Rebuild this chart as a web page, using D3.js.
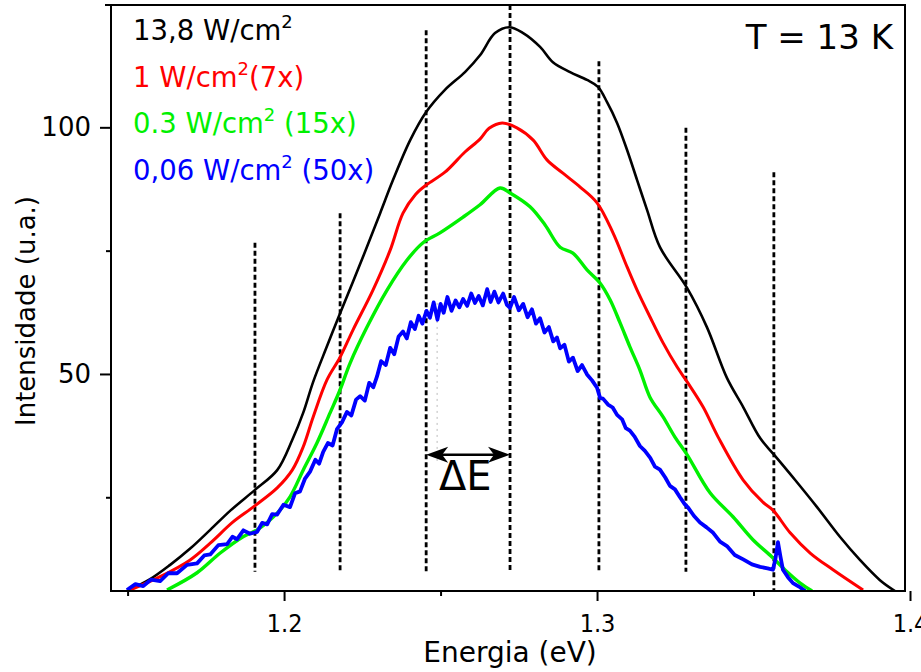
<!DOCTYPE html>
<html>
<head>
<meta charset="utf-8">
<script src="https://cdn.jsdelivr.net/npm/d3@7"></script>
<style>
  html, body { margin: 0; padding: 0; background: #fff; }
  svg { display: block; font-family: 'DejaVu Sans', sans-serif; }
</style>
</head>
<body>
<div id="chart"></div>
<script>
// PL spectra at T = 13 K, four excitation densities (scaled)
const X_DOMAIN = [1.1447, 1.3984];
const Y_DOMAIN = [6.0, 124.8];
const X_TICKS = [1.2, 1.3, 1.4];
const X_MINOR = [1.15, 1.25, 1.35];
const Y_TICKS = [50, 100];
const Y_MINOR = [25, 75];

// [energy eV, intensity]
const black = [
  [1.1498, 6.0], [1.1572, 8.4], [1.1636, 11.3], [1.1700, 14.6], [1.1764, 18.4], [1.1830, 22.4],
  [1.1907, 26.5], [1.1978, 30.5], [1.2026, 36.6], [1.2061, 42.1], [1.2093, 48.4], [1.2137, 55.6],
  [1.2179, 62.3], [1.2252, 73.7], [1.2307, 82.6], [1.2348, 89.3], [1.2403, 97.4], [1.2454, 103.1],
  [1.2514, 107.6], [1.2578, 111.2], [1.2626, 114.6], [1.2674, 119.1], [1.2719, 120.3], [1.2764, 119.1],
  [1.2818, 116.3], [1.2859, 113.2], [1.2914, 111.2], [1.2968, 109.6], [1.3003, 108.2], [1.3032, 105.1],
  [1.3064, 100.9], [1.3096, 95.4], [1.3128, 89.3], [1.3160, 83.2], [1.3201, 75.7], [1.3288, 67.4],
  [1.3351, 59.5], [1.3415, 49.2], [1.3467, 43.3], [1.3521, 37.0], [1.3566, 33.6], [1.3633, 28.5],
  [1.3703, 23.0], [1.3776, 17.0], [1.3840, 12.3], [1.3904, 8.2], [1.3952, 6.0]
];
const red = [
  [1.1508, 6.2], [1.1604, 8.9], [1.1700, 12.3], [1.1764, 15.7], [1.1837, 20.0], [1.1901, 23.0],
  [1.1978, 26.9], [1.2026, 30.5], [1.2061, 35.2], [1.2093, 41.3], [1.2137, 48.8], [1.2179, 53.4],
  [1.2220, 58.9], [1.2284, 67.0], [1.2339, 75.1], [1.2380, 82.6], [1.2420, 86.4], [1.2454, 88.3],
  [1.2514, 90.9], [1.2578, 95.0], [1.2626, 97.6], [1.2655, 99.8], [1.2697, 100.9], [1.2744, 99.9],
  [1.2796, 97.4], [1.2840, 93.4], [1.2891, 90.7], [1.2946, 87.9], [1.3000, 84.7], [1.3051, 78.6],
  [1.3096, 71.7], [1.3128, 67.0], [1.3169, 61.6], [1.3211, 56.3], [1.3256, 51.4], [1.3288, 48.4],
  [1.3339, 43.3], [1.3387, 37.2], [1.3467, 28.5], [1.3530, 24.0], [1.3562, 22.4], [1.3617, 17.8],
  [1.3681, 13.7], [1.3754, 10.3], [1.3850, 6.2]
];
const green = [
  [1.1626, 6.2], [1.1722, 9.7], [1.1796, 13.7], [1.1869, 17.0], [1.1914, 18.4], [1.1978, 21.8],
  [1.2019, 25.1], [1.2061, 30.5], [1.2105, 36.0], [1.2147, 42.1], [1.2179, 46.8], [1.2211, 52.2],
  [1.2265, 59.5], [1.2329, 67.0], [1.2393, 73.1], [1.2444, 76.6], [1.2498, 78.6], [1.2572, 81.8],
  [1.2626, 84.3], [1.2690, 87.7], [1.2722, 86.7], [1.2786, 83.9], [1.2834, 80.2], [1.2882, 75.7],
  [1.2923, 74.5], [1.2968, 71.1], [1.3010, 68.4], [1.3042, 65.0], [1.3074, 60.3], [1.3105, 55.5],
  [1.3137, 50.8], [1.3169, 45.3], [1.3211, 41.3], [1.3249, 37.2], [1.3288, 33.6], [1.3361, 25.9],
  [1.3435, 21.0], [1.3498, 16.4], [1.3559, 12.9], [1.3607, 9.9], [1.3649, 7.6], [1.3687, 6.0]
];
const blue = [
  [1.1498, 6.2], [1.1525, 7.4], [1.1550, 7.0], [1.1575, 8.3], [1.1604, 8.0], [1.1630, 9.6],
  [1.1658, 9.6], [1.1690, 11.3], [1.1722, 11.6], [1.1745, 13.2], [1.1764, 13.4], [1.1790, 15.3],
  [1.1818, 15.5], [1.1835, 17.0], [1.1850, 16.5], [1.1870, 18.3], [1.1891, 17.6], [1.1914, 18.0],
  [1.1930, 19.8], [1.1946, 19.5], [1.1962, 21.6], [1.1978, 21.5], [1.1998, 23.5], [1.2019, 23.0],
  [1.2035, 25.8], [1.2051, 26.2], [1.2067, 28.8], [1.2083, 30.2], [1.2100, 32.6], [1.2112, 31.8],
  [1.2125, 34.2], [1.2140, 36.0], [1.2155, 35.5], [1.2169, 38.8], [1.2185, 40.2], [1.2201, 42.3],
  [1.2215, 41.6], [1.2230, 44.8], [1.2243, 45.5], [1.2258, 44.6], [1.2272, 48.2], [1.2285, 47.3],
  [1.2297, 49.5], [1.2310, 52.6], [1.2325, 51.8], [1.2339, 55.3], [1.2352, 54.0], [1.2366, 57.6],
  [1.2380, 58.6], [1.2392, 57.2], [1.2405, 60.5], [1.2418, 59.1], [1.2430, 61.8], [1.2442, 60.2],
  [1.2455, 62.8], [1.2466, 61.4], [1.2478, 64.5], [1.2490, 61.0], [1.2500, 64.2], [1.2510, 62.4],
  [1.2522, 65.6], [1.2535, 62.8], [1.2548, 64.9], [1.2560, 63.5], [1.2572, 65.2], [1.2585, 63.8],
  [1.2598, 66.3], [1.2610, 64.4], [1.2622, 65.8], [1.2635, 63.9], [1.2649, 67.2], [1.2660, 64.6],
  [1.2672, 66.7], [1.2685, 64.5], [1.2700, 66.3], [1.2712, 64.0], [1.2722, 63.4], [1.2735, 65.6],
  [1.2750, 62.9], [1.2764, 64.2], [1.2778, 61.5], [1.2792, 63.1], [1.2805, 60.2], [1.2818, 61.3],
  [1.2832, 58.4], [1.2846, 59.5], [1.2860, 56.6], [1.2872, 57.4], [1.2882, 55.2], [1.2896, 55.9],
  [1.2910, 52.5], [1.2923, 53.3], [1.2938, 50.6], [1.2952, 51.8], [1.2968, 49.9], [1.2984, 48.7],
  [1.3000, 47.2], [1.3010, 45.1], [1.3019, 45.0], [1.3035, 43.8], [1.3050, 43.2], [1.3064, 41.7],
  [1.3080, 40.8], [1.3092, 39.0], [1.3105, 38.5], [1.3120, 37.3], [1.3137, 35.4], [1.3153, 34.4],
  [1.3170, 33.0], [1.3185, 31.2], [1.3201, 30.6], [1.3218, 29.0], [1.3233, 27.3], [1.3249, 26.6],
  [1.3265, 25.0], [1.3280, 23.6], [1.3291, 22.9], [1.3310, 21.2], [1.3329, 19.9], [1.3350, 18.9],
  [1.3371, 17.8], [1.3393, 16.0], [1.3415, 15.1], [1.3440, 13.3], [1.3467, 12.4], [1.3495, 11.4],
  [1.3521, 10.9], [1.3545, 10.6], [1.3562, 10.3], [1.3570, 12.5], [1.3578, 15.9], [1.3586, 13.0],
  [1.3594, 10.3], [1.3610, 8.8], [1.3626, 7.6], [1.3645, 6.9], [1.3665, 6.0]
];

const SERIES = [
  { data: black, color: '#000000', width: 2.6, smooth: true },
  { data: red,   color: '#ff0000', width: 3,   smooth: true },
  { data: green, color: '#00f000', width: 3.4, smooth: true },
  { data: blue,  color: '#0000ff', width: 3.8, smooth: false }
];

// legend labels: [before superscript, after superscript]
const LEGEND = [
  { pre: '13,8 W/cm', post: '',        color: '#000000' },
  { pre: '1 W/cm',    post: '(7x)',    color: '#ff0000' },
  { pre: '0.3 W/cm',  post: ' (15x)',  color: '#00f000' },
  { pre: '0,06 W/cm', post: ' (50x)',  color: '#0000ff' }
];

// dashed guide lines: energy, top intensity, bottom intensity
const GUIDES = [
  [1.1907, 76.6, 9.9], [1.2179, 82.6, 9.9], [1.2454, 119.7, 9.9], [1.2722, 124.8, 9.9],
  [1.3006, 113.4, 9.9], [1.3284, 99.9, 9.9], [1.3565, 90.9, 6.0]
];
const DELTA_E = [1.2454, 1.2722, 33.6];

const W = 921, H = 672;
const m = { left: 111, right: 905, top: 5, bottom: 591 };

const svg = d3.select('#chart').append('svg').attr('width', W).attr('height', H);
const x = d3.scaleLinear().domain(X_DOMAIN).range([m.left, m.right]);
const y = d3.scaleLinear().domain(Y_DOMAIN).range([m.bottom, m.top]);

svg.append('defs').append('clipPath').attr('id', 'plotclip')
  .append('rect').attr('x', m.left).attr('y', m.top)
  .attr('width', m.right - m.left).attr('height', m.bottom - m.top);

// --- dashed guides ---
svg.append('g').selectAll('line').data(GUIDES).enter().append('line')
  .attr('x1', d => x(d[0])).attr('x2', d => x(d[0]))
  .attr('y1', d => y(d[1])).attr('y2', d => y(d[2]))
  .attr('stroke', '#000').attr('stroke-width', 2.8).attr('stroke-dasharray', '5 3');

// faint dotted line
svg.append('line').attr('x1', x(1.2489)).attr('x2', x(1.2489))
  .attr('y1', y(64.4)).attr('y2', y(32.2))
  .attr('stroke', '#bbb').attr('stroke-width', 1).attr('stroke-dasharray', '2 4');

// --- curves ---
const gCurves = svg.append('g').attr('clip-path', 'url(#plotclip)');
SERIES.forEach(s => {
  const line = d3.line().x(d => x(d[0])).y(d => y(d[1]))
    .curve(s.smooth ? d3.curveCatmullRom : d3.curveLinear);
  gCurves.append('path').datum(s.data)
    .attr('fill', 'none').attr('stroke', s.color).attr('stroke-width', s.width)
    .attr('stroke-linejoin', 'round').attr('d', line);
});

// --- axes ---
const axisStyle = g => {
  g.select('.domain').remove();
  g.selectAll('line').attr('stroke', '#000').attr('stroke-width', 2);
};
svg.append('g').attr('transform', `translate(0,${m.bottom})`)
  .call(d3.axisBottom(x).tickValues(X_MINOR).tickSize(5).tickFormat(''))
  .call(axisStyle);
const gx = svg.append('g').attr('transform', `translate(0,${m.bottom})`)
  .call(d3.axisBottom(x).tickValues(X_TICKS).tickSize(10).tickFormat(d3.format('.1f')))
  .call(axisStyle);
gx.selectAll('text').attr('y', 41).attr('dy', 0)
  .style('font-family', "'DejaVu Sans Condensed', 'DejaVu Sans', sans-serif")
  .style('font-stretch', 'condensed')
  .style('font-size', '25px').style('fill', '#000');

svg.append('g').attr('transform', `translate(${m.left},0)`)
  .call(d3.axisLeft(y).tickValues(Y_MINOR).tickSize(5).tickFormat(''))
  .call(axisStyle);
const gy = svg.append('g').attr('transform', `translate(${m.left},0)`)
  .call(d3.axisLeft(y).tickValues(Y_TICKS).tickSize(11).tickPadding(9))
  .call(axisStyle);
gy.selectAll('text').style('font-size', '26px').style('fill', '#000')
  .style('font-family', "'DejaVu Sans', sans-serif");

// frame
svg.append('path')
  .attr('d', `M${m.left - 6},${m.top}H${m.right}V${m.bottom}H${m.left}V${m.top}`)
  .attr('fill', 'none').attr('stroke', '#000').attr('stroke-width', 2);

// axis titles
svg.append('text').attr('x', 510).attr('y', 662).attr('text-anchor', 'middle')
  .style('font-size', '28px').text('Energia (eV)');
svg.append('text').attr('transform', 'translate(35,311) rotate(-90)')
  .attr('text-anchor', 'middle').style('font-size', '26px').text('Intensidade (u.a.)');

// legend
LEGEND.forEach((l, i) => {
  const t = svg.append('text').attr('x', 133).attr('y', 40 + i * 46.5)
    .style('font-size', '27.5px').style('fill', l.color);
  t.append('tspan').text(l.pre);
  t.append('tspan').attr('dy', -12).style('font-size', '18px').text('2');
  if (l.post) t.append('tspan').attr('dy', 12).text(l.post);
});

// temperature
svg.append('text').attr('x', 893).attr('y', 49).attr('text-anchor', 'end')
  .style('font-size', '34px').text('T = 13 K');

// ΔE arrow
const ay = y(DELTA_E[2]);
const x0 = x(DELTA_E[0]), x1 = x(DELTA_E[1]);
svg.append('line').attr('x1', x0 + 8).attr('x2', x1 - 8).attr('y1', ay).attr('y2', ay)
  .attr('stroke', '#000').attr('stroke-width', 2.5);
svg.append('path').attr('d', `M${x0},${ay}l22,-8l-6,8l6,8z`).attr('fill', '#000');
svg.append('path').attr('d', `M${x1},${ay}l-22,-8l6,8l-6,8z`).attr('fill', '#000');
svg.append('text').attr('x', 439).attr('y', 490).style('font-size', '40px').text('ΔE');
</script>
</body>
</html>
